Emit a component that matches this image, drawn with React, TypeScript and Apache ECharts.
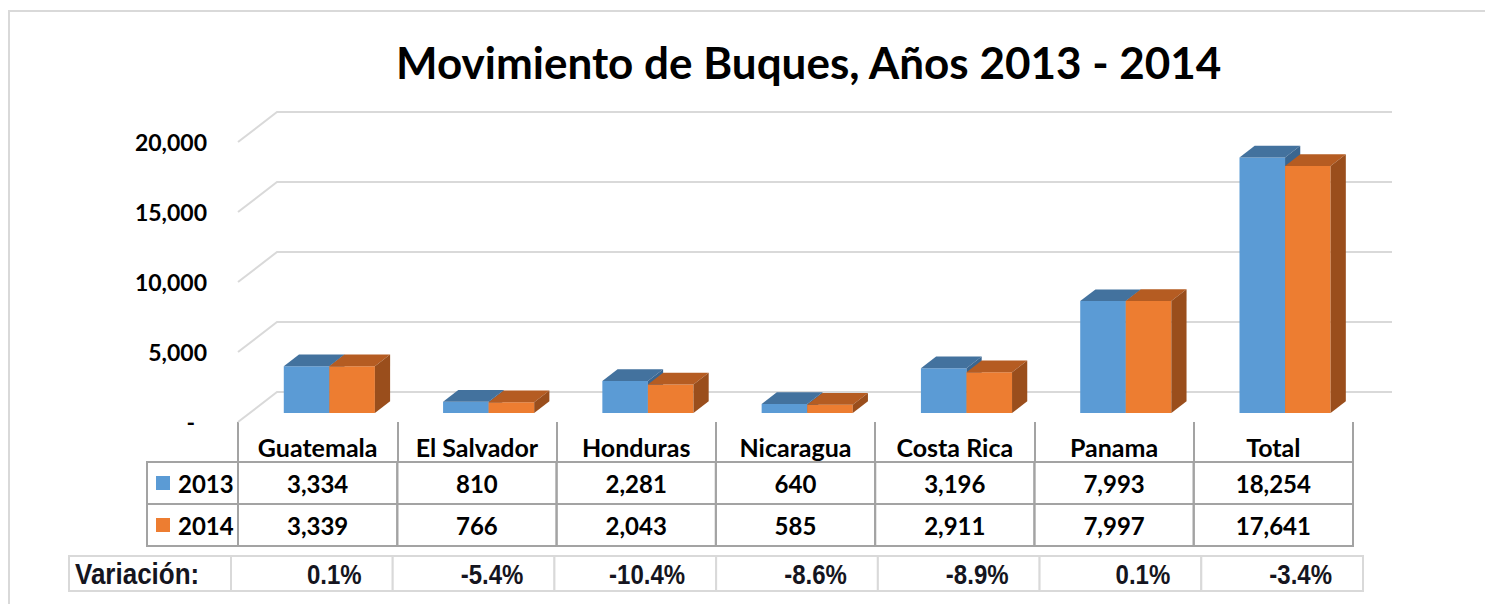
import React, { useEffect, useRef } from "react";
import * as echarts from "echarts";

const titleText = "Movimiento de Buques, Años 2013 - 2014";
const categories = ["Guatemala", "El Salvador", "Honduras", "Nicaragua", "Costa Rica", "Panama", "Total"];
const seriesNames = ["2013", "2014"];
const values2013 = [3334, 810, 2281, 640, 3196, 7993, 18254];
const values2014 = [3339, 766, 2043, 585, 2911, 7997, 17641];
const variation = [0.1, -5.4, -10.4, -8.6, -8.9, 0.1, -3.4];
const variationLabel = "Variación:";
const yTicks = [0, 5000, 10000, 15000, 20000];

// layout / style constants
const W = 1485;
const H = 604;
const DX = 39; // plot depth in px (x)
const DY = -30; // plot depth in px (y)
const BAR_FRONT = 0.3; // depth fraction where bars begin
const BAR_DEPTH = 0.39; // depth fraction of bars
const BAR_W = 0.286; // bar width as fraction of band
const FONT = "Lato";
const COLORS = [
  { front: "#5B9BD5", top: "#43729E", side: "#3A6690" },
  { front: "#ED7D31", top: "#B55C22", side: "#9A4E1C" },
];
const TABLE_LINE = "#a3a3a3";
const ROW_H = 42;
const HEADER_H = 40;
const LEGEND_W = 91;

const fmt = (v: number) => v.toLocaleString("en-US");

function makeBarRender(idx: number) {
  return (params: any, api: any) => {
    const cat = api.value(0);
    const val = api.value(1);
    const base = api.coord([cat, 0]);
    const top = api.coord([cat, val]);
    const band = api.size([1, 0])[0];
    const bw = band * BAR_W;
    const ox = DX * BAR_FRONT;
    const oy = DY * BAR_FRONT;
    const x0 = base[0] + ox + (idx === 0 ? -bw : 0);
    const x1 = x0 + bw;
    const yb = base[1] + oy;
    const yt = top[1] + oy;
    const ddx = DX * BAR_DEPTH;
    const ddy = DY * BAR_DEPTH;
    const c = COLORS[idx];
    return {
      type: "group",
      children: [
        { type: "rect", shape: { x: x0, y: yt, width: bw, height: yb - yt }, style: { fill: c.front } },
        {
          type: "polygon",
          shape: { points: [[x0, yt], [x0 + ddx, yt + ddy], [x1 + ddx, yt + ddy], [x1, yt]] },
          style: { fill: c.top },
        },
        {
          type: "polygon",
          shape: { points: [[x1, yt], [x1 + ddx, yt + ddy], [x1 + ddx, yb + ddy], [x1, yb]] },
          style: { fill: c.side },
        },
      ],
    };
  };
}

function gridRender(params: any, api: any) {
  const v = api.value(1);
  const cs = params.coordSys;
  const y = api.coord([0, v])[1];
  return {
    type: "polyline",
    shape: {
      points: [
        [cs.x, y],
        [cs.x + DX, y + DY],
        [cs.x + cs.width + DX, y + DY],
      ],
    },
    style: { stroke: "#d9d9d9", lineWidth: 2, fill: null },
  };
}

function tableRender(params: any, api: any) {
  const i = api.value(0);
  const cs = params.coordSys;
  const band = api.size([1, 0])[0];
  const cx = api.coord([i, 0])[0];
  const left = cx - band / 2;
  const y0 = cs.y + cs.height + HEADER_H;
  const vals = [api.value(1), api.value(2)];
  const children: any[] = [];
  for (let r = 0; r < 2; r++) {
    const ry = y0 + r * ROW_H;
    children.push({
      type: "rect",
      shape: { x: left, y: ry, width: band, height: ROW_H },
      style: { fill: "none", stroke: TABLE_LINE, lineWidth: 2 },
    });
    children.push({
      type: "text",
      style: {
        text: fmt(vals[r]),
        x: cx,
        y: ry + ROW_H / 2,
        align: "center",
        verticalAlign: "middle",
        fontSize: 24,
        fontWeight: "bold",
        fontFamily: FONT,
        fill: "#000",
      },
    });
    if (i === 0) {
      const lx = left - LEGEND_W;
      children.push({
        type: "rect",
        shape: { x: lx, y: ry, width: LEGEND_W, height: ROW_H },
        style: { fill: "none", stroke: TABLE_LINE, lineWidth: 2 },
      });
      children.push({
        type: "rect",
        shape: { x: lx + 9, y: ry + ROW_H / 2 - 7, width: 14, height: 14 },
        style: { fill: COLORS[r].front },
      });
      children.push({
        type: "text",
        style: {
          text: seriesNames[r],
          x: lx + 31,
          y: ry + ROW_H / 2,
          align: "left",
          verticalAlign: "middle",
          fontSize: 24,
          fontWeight: "bold",
          fontFamily: FONT,
          fill: "#000",
        },
      });
    }
  }
  return { type: "group", children };
}

function variationRender(params: any, api: any) {
  const i = api.value(0);
  const cs = params.coordSys;
  const band = api.size([1, 0])[0];
  const cx = api.coord([i, 0])[0];
  const left = cx - band / 2;
  const v = api.value(1);
  const ty = cs.y + cs.height / 2 + 1;
  return {
    type: "group",
    children: [
      {
        type: "rect",
        shape: { x: left, y: cs.y, width: band, height: cs.height },
        style: { fill: "#fff", stroke: "#d9d9d9", lineWidth: 2 },
      },
      {
        type: "text",
        x: left + band - 31,
        y: ty,
        scaleY: 1.15,
        style: {
          text: v.toFixed(1) + "%",
          x: 0,
          y: 0,
          align: "right",
          verticalAlign: "middle",
          fontSize: 24,
          fontWeight: "bold",
          fontFamily: "Liberation Sans",
          fill: "#151520",
        },
      },
    ],
  };
}

export default function App() {
  const ref = useRef<HTMLDivElement>(null);
  useEffect(() => {
    if (!ref.current) return;
    const chart = echarts.init(ref.current, null, { renderer: "svg" });
    const catIdx = categories.map((_, i) => i);
    const option: any = {
      animation: false,
      backgroundColor: "#fff",
      title: {
        text: titleText,
        left: 391,
        top: 35,
        textStyle: { fontSize: 44, fontWeight: "bold", fontFamily: FONT, color: "#000" },
      },
      graphic: [
        {
          type: "rect",
          shape: { x: 9, y: 11, width: W + 20, height: H + 20 },
          style: { fill: "none", stroke: "#d9d9d9", lineWidth: 2 },
          z: 0,
        },
        {
          type: "rect",
          shape: { x: 69, y: 556, width: 162, height: 35 },
          style: { fill: "#fff", stroke: "#d9d9d9", lineWidth: 2 },
        },
        {
          type: "text",
          x: 75,
          y: 574,
          scaleY: 1.15,
          style: {
            text: variationLabel,
            x: 0,
            y: 0,
            align: "left",
            verticalAlign: "middle",
            fontSize: 26,
            fontWeight: "bold",
            fontFamily: "Liberation Sans",
            fill: "#151520",
          },
        },
      ],
      grid: [
        { left: 238, right: W - 1353, top: 142, height: 280 },
        { left: 231, right: W - 1363, top: 556, height: 35 },
      ],
      xAxis: [
        {
          type: "category",
          gridIndex: 0,
          data: categories,
          axisLine: { show: false },
          axisTick: { show: true, length: HEADER_H, alignWithLabel: false, lineStyle: { color: TABLE_LINE, width: 2 } },
          axisLabel: {
            margin: 25,
            verticalAlign: "middle",
            fontSize: 25,
            fontWeight: "bold",
            fontFamily: FONT,
            color: "#000",
            interval: 0,
          },
          splitLine: { show: false },
        },
        { type: "category", gridIndex: 1, data: categories, show: false },
      ],
      yAxis: [
        {
          type: "value",
          gridIndex: 0,
          min: 0,
          max: 20000,
          interval: 5000,
          axisLine: { show: false },
          axisTick: { show: false },
          splitLine: { show: false },
          axisLabel: {
            margin: 31,
            fontSize: 23,
            fontWeight: "bold",
            fontFamily: FONT,
            color: "#000",
            formatter: (v: number) => (v === 0 ? "{d|-}" : fmt(v)),
            rich: { d: { fontSize: 23, fontWeight: "bold", fontFamily: FONT, color: "#000", padding: [0, 12, 0, 0] } },
          },
        },
        { type: "value", gridIndex: 1, min: 0, max: 1, show: false },
      ],
      series: [
        {
          type: "custom",
          name: "grid",
          xAxisIndex: 0,
          yAxisIndex: 0,
          renderItem: gridRender,
          data: yTicks.map((v) => [0, v]),
          encode: { x: 0, y: 1 },
          silent: true,
          z: 1,
        },
        {
          type: "custom",
          name: seriesNames[0],
          xAxisIndex: 0,
          yAxisIndex: 0,
          renderItem: makeBarRender(0),
          data: catIdx.map((i) => [i, values2013[i]]),
          encode: { x: 0, y: 1 },
          z: 2,
        },
        {
          type: "custom",
          name: seriesNames[1],
          xAxisIndex: 0,
          yAxisIndex: 0,
          renderItem: makeBarRender(1),
          data: catIdx.map((i) => [i, values2014[i]]),
          encode: { x: 0, y: 1 },
          z: 3,
        },
        {
          type: "custom",
          name: "table",
          xAxisIndex: 0,
          yAxisIndex: 0,
          renderItem: tableRender,
          data: catIdx.map((i) => [i, values2013[i], values2014[i]]),
          encode: { x: 0 },
          silent: true,
          z: 4,
        },
        {
          type: "custom",
          name: "variation",
          xAxisIndex: 1,
          yAxisIndex: 1,
          renderItem: variationRender,
          data: catIdx.map((i) => [i, variation[i]]),
          encode: { x: 0 },
          silent: true,
          z: 4,
        },
      ],
    };
    chart.setOption(option);
    return () => chart.dispose();
  }, []);
  return <div ref={ref} style={{ position: "fixed", left: 0, top: 0, width: W, height: H }} />;
}
